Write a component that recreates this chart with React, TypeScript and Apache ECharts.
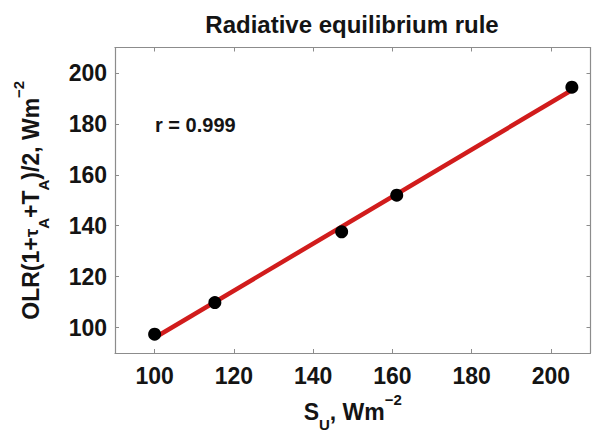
import { useEffect, useRef } from "react";
import * as echarts from "echarts";

// Upward surface flux S_U (W m^-2) and the scaled outgoing longwave term
const surfaceUp = [100, 115.2, 147.2, 161.1, 205.3];
const olrScaled = [97.4, 109.8, 137.6, 152.0, 194.4];

// Least-squares fit line end points
const fitX = [100, 205];
const fitY = [96.0, 193.0];

// Tick positions shared by both axes
const tickValues = [100, 120, 140, 160, 180, 200];

const titleText = "Radiative equilibrium rule";
const correlationText = "r = 0.999";

const FONT = "'Liberation Sans', Arial, Helvetica, sans-serif";
const FRAME = "#8c8c8c";
const INK = "#141414";

const nameRich = {
  sub: { fontSize: 15, fontWeight: "bold" as const, fontFamily: FONT, color: INK, lineHeight: 16, verticalAlign: "bottom" as const },
  sup: { fontSize: 15, fontWeight: "bold" as const, fontFamily: FONT, color: INK, lineHeight: 20, verticalAlign: "top" as const },
  tau: { fontSize: 19, fontWeight: "bold" as const, fontFamily: FONT, color: INK, lineHeight: 40 },
};

export default function App() {
  const ref = useRef<HTMLDivElement>(null);

  useEffect(() => {
    document.body.style.margin = "0";
    if (!ref.current) return;
    const chart = echarts.init(ref.current, null, { renderer: "svg" });

    const fitPairs = fitX.map((x, i) => [x, fitY[i]]);
    const points = surfaceUp.map((x, i) => [x, olrScaled[i]]);

    const frameAxis = {
      type: "value" as const,
      min: 90,
      max: 210,
      splitLine: { show: false },
      axisLine: { show: true, onZero: false, lineStyle: { color: FRAME, width: 1.2 } },
      axisTick: { show: true, inside: true, length: 4, customValues: tickValues, lineStyle: { color: FRAME } },
    };

    const tickLabel = {
      customValues: tickValues,
      fontSize: 23,
      fontWeight: "bold" as const,
      fontFamily: FONT,
      color: INK,
    };

    const nameStyle = {
      fontSize: 23,
      fontWeight: "bold" as const,
      fontFamily: FONT,
      color: INK,
      lineHeight: 40,
      rich: nameRich,
    };

    chart.setOption({
      animation: false,
      backgroundColor: "#ffffff",
      grid: { left: 115, top: 47.5, right: 1.5, bottom: 85, outerBoundsMode: "none" },
      xAxis: [
        {
          ...frameAxis,
          position: "bottom",
          axisLabel: { ...tickLabel, margin: 11 },
          name: "S{sub|U}, Wm{sup|−2}",
          nameLocation: "middle",
          nameGap: 38,
          nameTextStyle: nameStyle,
        },
        { ...frameAxis, position: "top", axisLabel: { show: false } },
      ],
      yAxis: [
        {
          ...frameAxis,
          position: "left",
          axisLabel: { ...tickLabel, margin: 8 },
          name: "OLR(1+{tau|τ}{sub|A}+T{sub|A})/2, Wm{sup|−2}",
          nameLocation: "middle",
          nameGap: 64,
          nameTextStyle: nameStyle,
        },
        { ...frameAxis, position: "right", axisLabel: { show: false } },
      ],
      graphic: [
        {
          type: "text",
          x: 352,
          y: 24,
          style: {
            text: titleText,
            fontSize: 24,
            fontWeight: "bold",
            fontFamily: FONT,
            fill: INK,
            align: "center",
            verticalAlign: "middle",
          },
        },
        {
          type: "text",
          x: 155,
          y: 125,
          style: {
            text: correlationText,
            fontSize: 20,
            fontWeight: "bold",
            fontFamily: FONT,
            fill: INK,
            align: "left",
            verticalAlign: "middle",
          },
        },
      ],
      series: [
        {
          type: "line",
          data: fitPairs,
          showSymbol: false,
          symbol: "none",
          lineStyle: { color: "#d11c1c", width: 4.5 },
          z: 2,
        },
        {
          type: "scatter",
          data: points,
          symbol: "circle",
          symbolSize: 13,
          itemStyle: { color: "#000000", opacity: 1 },
          z: 3,
        },
      ],
    });

    return () => chart.dispose();
  }, []);

  return <div ref={ref} style={{ width: 592, height: 438 }} />;
}
